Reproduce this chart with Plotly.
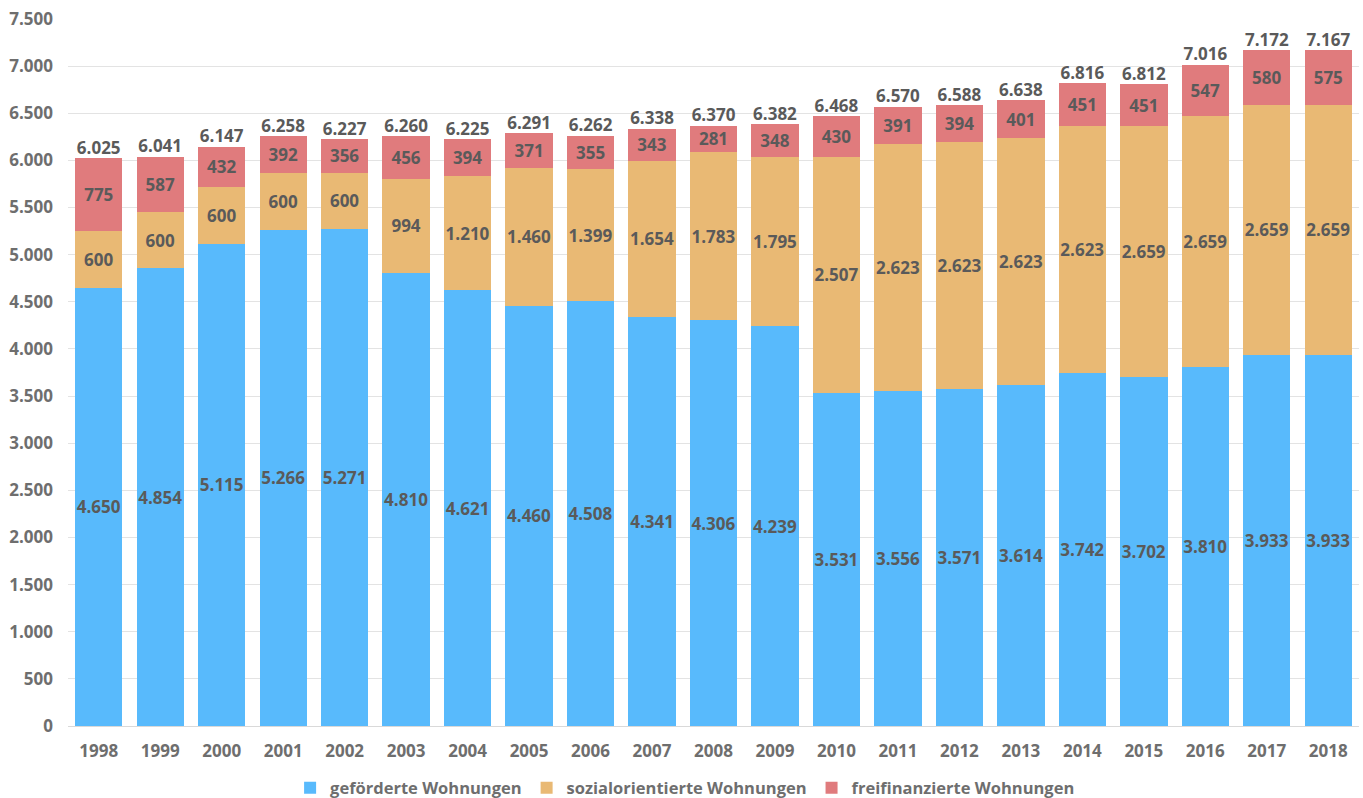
import plotly.graph_objects as go

years = [str(y) for y in range(1998, 2019)]
gefoerdert = [4650, 4854, 5115, 5266, 5271, 4810, 4621, 4460, 4508, 4341, 4306,
              4239, 3531, 3556, 3571, 3614, 3742, 3702, 3810, 3933, 3933]
sozial = [600, 600, 600, 600, 600, 994, 1210, 1460, 1399, 1654, 1783,
          1795, 2507, 2623, 2623, 2623, 2623, 2659, 2659, 2659, 2659]
frei = [775, 587, 432, 392, 356, 456, 394, 371, 355, 343, 281,
        348, 430, 391, 394, 401, 451, 451, 547, 580, 575]
totals = [a + b + c for a, b, c in zip(gefoerdert, sozial, frei)]


def fmt(v):
    return f"{v:,}".replace(",", ".")


FONT = "Open Sans"
TXT = "#5a5a5a"
AX = "#6e6e6e"
lab_font = dict(family=FONT, size=17, color=TXT, weight="bold")
ax_font = dict(family=FONT, size=17, color=AX, weight="bold")

fig = go.Figure()
series = [
    ("geförderte Wohnungen", gefoerdert, "rgb(88,186,252)"),
    ("sozialorientierte Wohnungen", sozial, "rgb(233,185,116)"),
    ("freifinanzierte Wohnungen", frei, "rgb(224,123,125)"),
]
for name, vals, col in series:
    fig.add_trace(go.Bar(
        x=years, y=vals, name=name,
        marker=dict(color=col, line=dict(width=0)),
        text=[fmt(v) for v in vals],
        textposition="inside", insidetextanchor="middle",
        textangle=0, constraintext="none",
        textfont=lab_font,
    ))

fig.add_trace(go.Scatter(
    x=years, y=totals, mode="text",
    text=[fmt(v) for v in totals],
    textposition="top center", textfont=lab_font,
    showlegend=False, hoverinfo="skip", cliponaxis=False,
))

fig.update_layout(
    barmode="stack", bargap=0.23,
    width=1363, height=798,
    margin=dict(l=68, r=4, t=19, b=72, autoexpand=False),
    plot_bgcolor="white", paper_bgcolor="white",
    separators=",.",
    font=dict(family=FONT, size=16, color=AX, weight="bold"),
    legend=dict(orientation="h", x=0.478, xanchor="center", y=-0.063, yanchor="top",
                font=dict(family=FONT, size=16.5, color=AX, weight="bold"),
                itemwidth=30, traceorder="normal"),
    showlegend=True,
)
fig.update_yaxes(range=[0, 7500], dtick=500, tickformat=",d",
                 gridcolor="#e3e3e3", gridwidth=1, zeroline=False,
                 showline=False, ticks="", ticklabelstandoff=14,
                 automargin=False, tickfont=ax_font)
fig.update_xaxes(range=[-0.5, len(years) - 0.5], autorange=False,
                 showline=True, linecolor="#d9d9d9", linewidth=1, ticks="",
                 ticklabelstandoff=10, automargin=False, tickfont=ax_font)

fig.write_html("out.html", config={"displayModeBar": False},
               post_script="document.body.style.margin='0';document.body.style.overflow='hidden';")
